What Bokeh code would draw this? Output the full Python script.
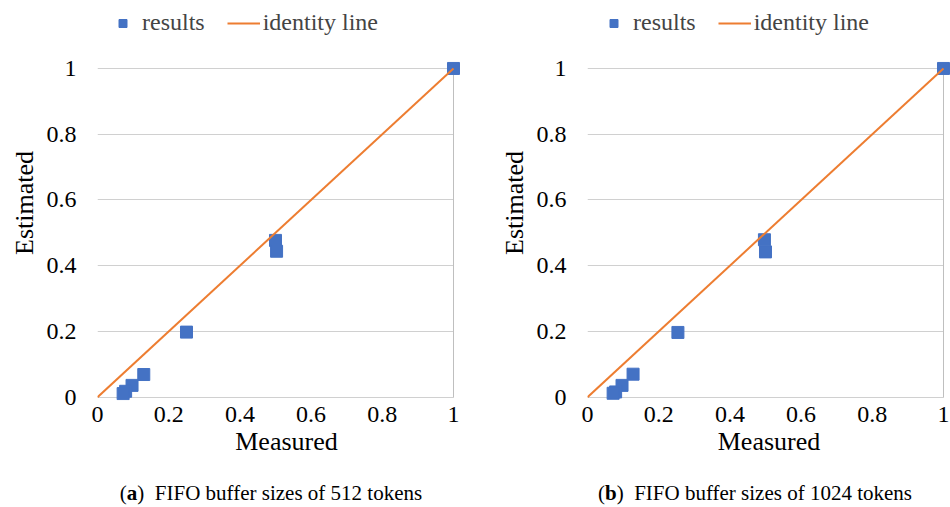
from bokeh.plotting import figure
from bokeh.models import (Range1d, FixedTicker, Grid, Legend, LegendItem,
                          NumeralTickFormatter, Div)
from bokeh.layouts import row, column
from bokeh.embed import file_html
from bokeh.resources import INLINE

# ---------------- data ----------------
measured_512 = [1.0, 0.500, 0.503, 0.250, 0.130, 0.097, 0.079, 0.072]
estimated_512 = [1.0, 0.477, 0.444, 0.198, 0.069, 0.036, 0.018, 0.011]

measured_1024 = [1.0, 0.497, 0.500, 0.254, 0.128, 0.097, 0.079, 0.072]
estimated_1024 = [1.0, 0.479, 0.442, 0.197, 0.070, 0.036, 0.016, 0.012]

identity_x = [0.0, 1.0]
identity_y = [0.0, 1.0]

tick_values = [0, 0.2, 0.4, 0.6, 0.8, 1]
x_label = "Measured"
y_label = "Estimated"
legend_labels = ["results", "identity line"]
captions = [("a", "FIFO buffer sizes of 512 tokens"),
            ("b", "FIFO buffer sizes of 1024 tokens")]

BLUE = "#4472C4"
ORANGE = "#ED7D31"
GRID = "#d0d0d0"
AXIS = "#bfbfbf"
FONT = "Liberation Serif"


def make_panel(mx, my, border_left, x_end, legend_dx):
    p = figure(width=475, height=473, output_backend="svg", toolbar_location=None,
               x_range=Range1d(0, x_end), y_range=Range1d(-0.01, 1.1915),
               min_border_left=border_left, min_border_right=0,
               min_border_top=5, min_border_bottom=73)
    p.outline_line_color = None
    p.background_fill_color = "white"
    p.border_fill_color = "white"
    p.xgrid.visible = False
    p.ygrid.visible = False

    # horizontal gridlines 0..1 limited to the plot area
    p.add_layout(Grid(dimension=1, ticker=FixedTicker(ticks=tick_values),
                      bounds=(0, 1), cross_bounds=(0, 1),
                      grid_line_color=GRID, grid_line_width=1))
    # vertical axis line at 0 and plot-area border at 1
    p.add_layout(Grid(dimension=0, ticker=FixedTicker(ticks=[0, 1]),
                      bounds=(0, 1), cross_bounds=(0, 1),
                      grid_line_color=AXIS, grid_line_width=1))

    for ax in (p.xaxis[0], p.yaxis[0]):
        ax.ticker = FixedTicker(ticks=tick_values)
        ax.formatter = NumeralTickFormatter(format="0.[0]")
        ax.axis_line_color = None
        ax.major_tick_line_color = None
        ax.minor_tick_line_color = None
        ax.major_tick_out = 0
        ax.major_tick_in = 0
        ax.major_label_text_font = FONT
        ax.major_label_text_font_size = "24px"
        ax.major_label_text_color = "black"
        ax.axis_label_text_font = FONT
        ax.axis_label_text_font_size = "26px"
        ax.axis_label_text_font_style = "normal"
        ax.axis_label_text_color = "black"

    p.xaxis[0].axis_label = x_label
    p.yaxis[0].axis_label = y_label
    p.xaxis[0].major_label_standoff = 6
    p.xaxis[0].axis_label_standoff = 2
    p.yaxis[0].major_label_standoff = 21
    p.yaxis[0].axis_label_standoff = 5

    sc = p.scatter(mx, my, marker="square", size=12, fill_color=BLUE,
                   line_color=BLUE)
    ln = p.line(identity_x, identity_y, line_color=ORANGE, line_width=2)

    legend = Legend(items=[LegendItem(label=legend_labels[0], renderers=[sc]),
                           LegendItem(label=legend_labels[1], renderers=[ln])],
                    orientation="horizontal", location=(legend_dx, 364),
                    border_line_color=None, background_fill_alpha=0,
                    label_text_font=FONT, label_text_font_size="24px",
                    label_standoff=3, glyph_width=33, glyph_height=20,
                    spacing=22, padding=0, margin=0)
    p.add_layout(legend)
    return p


p1 = make_panel(measured_512, estimated_512, 97, 1.0618, 9)
p2 = make_panel(measured_1024, estimated_1024, 112, 1.0197, 10)

cap_html = (
    '<div style="position:relative;width:950px;height:26px;'
    'font-family:\'Liberation Serif\';font-size:21px;color:black;">'
    '<div style="position:absolute;left:66px;top:0;width:400px;text-align:center;">'
    '(<b>%s</b>)&nbsp; %s</div>'
    '<div style="position:absolute;left:550px;top:0;width:400px;text-align:center;">'
    '(<b>%s</b>)&nbsp; %s</div></div>'
) % (captions[0][0], captions[0][1], captions[1][0], captions[1][1])
cap = Div(text=cap_html, width=950, height=26)

layout = column(row(p1, p2), cap)

open("out.html", "w").write(file_html(layout, INLINE))
